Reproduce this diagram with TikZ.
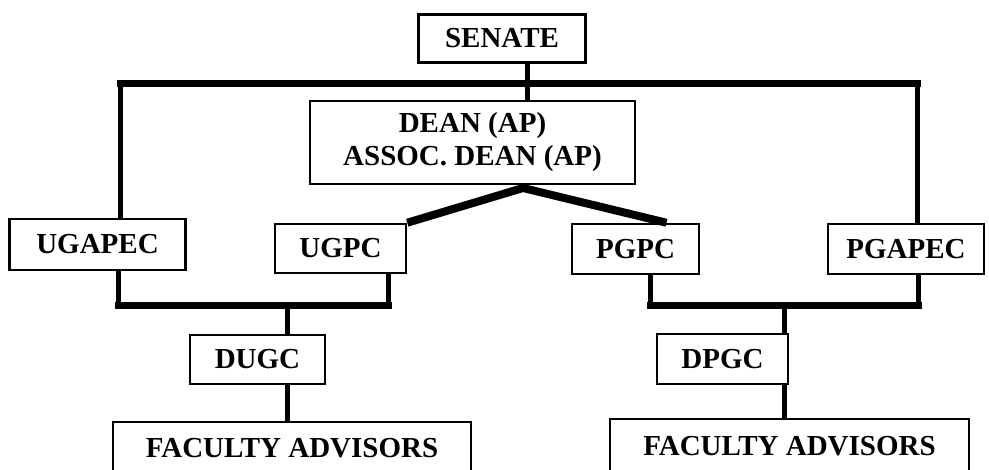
\documentclass[tikz,border=0pt]{standalone}
\usepackage{fontspec}
\setmainfont{Liberation Serif}
\usepackage{tikz}

\begin{document}
\begin{tikzpicture}[
            x=1pt, y=-1pt, % one unit is one pixel of the chart
            box/.style={draw, line width=2.5pt, inner sep=0pt, align=center,
                font=\bfseries\fontsize{29}{33}\selectfont}, % boxed committee
            link/.style={line width=5pt}, % plain connector
            bar/.style={line width=7pt, line cap=rect}, % collecting bar
            slant/.style={line width=8pt} % dean to committees
            ]

        \clip (0,0) rectangle (989,470);

        % Boxes
        \node[box, minimum width=167, minimum height=48] (senate) at (502,38.5) {SENATE};
        \node[box, minimum width=325, minimum height=83] (dean) at (472.5,142.5) {DEAN (AP)\\ASSOC. DEAN (AP)};
        \node[box, minimum width=176, minimum height=51] (ugapec) at (97.5,244.5) {UGAPEC};
        \node[box, minimum width=131, minimum height=49] (ugpc) at (340.5,248.5) {UGPC};
        \node[box, minimum width=127, minimum height=50] (pgpc) at (635.5,249) {PGPC};
        \node[box, minimum width=156, minimum height=50] (pgapec) at (906,249) {PGAPEC};
        \node[box, minimum width=135, minimum height=49] (dugc) at (257.5,359.5) {DUGC};
        \node[box, minimum width=131, minimum height=50] (dpgc) at (722.5,359) {DPGC};
        \node[box, minimum width=358, minimum height=53] (facl) at (292,448.5) {FACULTY ADVISORS};
        \node[box, minimum width=359, minimum height=54] (facr) at (789.5,446) {FACULTY ADVISORS};

        % Junction points
        \coordinate (trunk) at (527,83.5);
        \coordinate (topL) at (120,83.5);
        \coordinate (topR) at (917,83.5);
        \coordinate (apex) at (523,188);
        \coordinate (lowL) at (287,306);
        \coordinate (lowLa) at (118,306);
        \coordinate (lowLb) at (388,306);
        \coordinate (lowR) at (784,306);
        \coordinate (lowRa) at (650,306);
        \coordinate (lowRb) at (918,306);

        % Senate level
        \draw[bar] (topL) -- (topR);
        \draw[link] (trunk |- senate.south) -- (trunk |- dean.north);
        \draw[link] (topL) -- (topL |- ugapec.north);
        \draw[link] (topR) -- (topR |- pgapec.north);
        \draw[slant] (ugpc.north east) -- (apex) -- ([xshift=31pt]pgpc.north);

        % Undergraduate side
        \draw[link] (ugapec.south -| lowLa) -- (lowLa);
        \draw[link] (ugpc.south -| lowLb) -- (lowLb);
        \draw[bar] (lowLa) -- (lowLb);
        \draw[link] (lowL) -- (dugc.north -| lowL);
        \draw[link] (dugc.south -| lowL) -- (facl.north -| lowL);

        % Postgraduate side
        \draw[link] (pgpc.south -| lowRa) -- (lowRa);
        \draw[link] (pgapec.south -| lowRb) -- (lowRb);
        \draw[bar] (lowRa) -- (lowRb);
        \draw[link] (lowR) -- (dpgc.north -| lowR);
        \draw[link] (dpgc.south -| lowR) -- (facr.north -| lowR);

\end{tikzpicture}
\end{document}
